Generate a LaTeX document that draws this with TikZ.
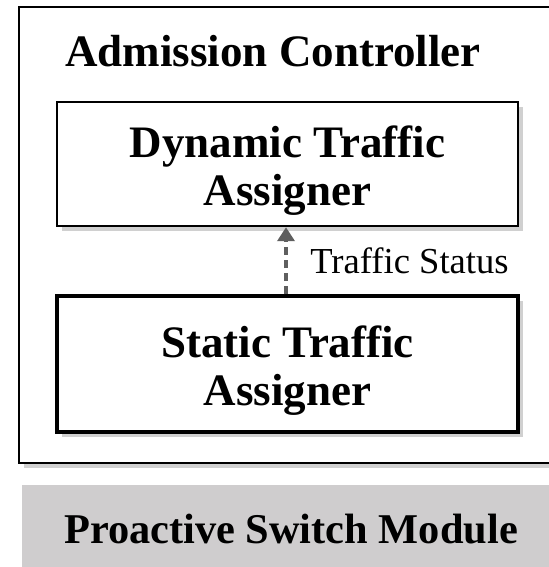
\documentclass[tikz,border=0pt]{standalone}
\usepackage{fontspec}
\setmainfont{Liberation Serif}
\usetikzlibrary{arrows.meta,positioning,shadows}

\definecolor{switchgray}{RGB}{207,205,206}
\definecolor{arrowgray}{RGB}{95,95,95}

\begin{document}
\begin{tikzpicture}[x=0.5pt,y=-0.5pt,
    bigfont/.style={font=\fontsize{22.5}{24}\selectfont\bfseries},
    softshadow/.style={drop shadow={shadow xshift=2.5pt, shadow yshift=-2.5pt, opacity=0.3, fill=black!60}},
    assigner/.style={draw, fill=white, minimum width=230.5pt, softshadow},
    assignertext/.style={bigfont, align=center, yshift=-3.5pt}]
    \useasboundingbox (0,0) rectangle (549,567);

    % Admission controller frame with its title
    \node[draw, line width=1pt, fill=white, minimum width=268.5pt, minimum height=228pt, softshadow] (controller) at (287.5,235) {};
    \node[bigfont] (title) at (273,51) {Admission Controller};

    % The two traffic assigners
    \node[assigner, line width=1.2pt, minimum height=62pt,
          label={[assignertext]center:Dynamic Traffic\\Assigner}] (dta) at (287.5,164) {};
    \node[assigner, line width=1.6pt, minimum height=68pt,
          label={[assignertext]center:Static Traffic\\Assigner}] (sta) at (287.5,364) {};

    % Status report from the static to the dynamic assigner
    \coordinate (ax) at (286,0);
    \draw[arrowgray, line width=2.4pt, dash pattern=on 4pt off 2.6pt, -{Triangle[length=7pt,width=8.5pt]}]
        (sta.north -| ax) -- (dta.south -| ax)
        node[midway, right=11pt, inner sep=0pt, black, font=\fontsize{18.3}{20}\selectfont] (status) {Traffic Status};

    % Switch module below
    \node[fill=switchgray, font=\fontsize{21.2}{24}\selectfont\bfseries, minimum width=269pt, minimum height=44pt] (switch) at (291,529) {Proactive Switch Module};
\end{tikzpicture}
\end{document}
